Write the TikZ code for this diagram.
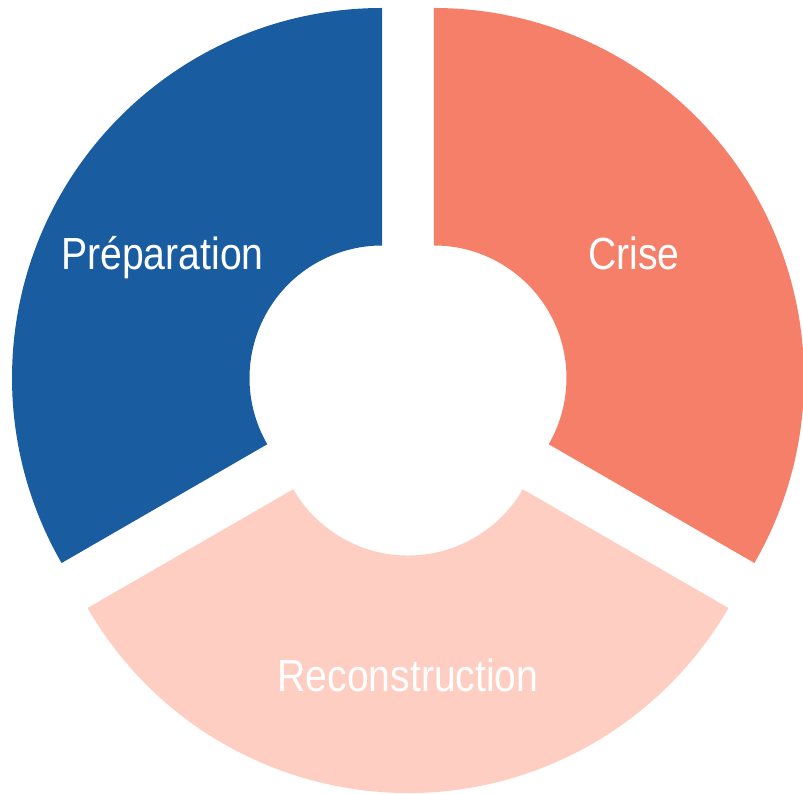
\documentclass[tikz,border=0pt]{standalone}
\usepackage{fontspec}
\setmainfont{Liberation Sans}[FakeStretch=0.87]
\usetikzlibrary{calc}
\definecolor{prepblue}{RGB}{26,92,160}
\definecolor{crisesalmon}{RGB}{246,127,106}
\definecolor{reconpink}{RGB}{254,206,195}
\tikzset{
  seglabel/.style={text=white, font=\fontsize{45pt}{45pt}\selectfont, anchor=base, inner sep=0pt},
}
\newcommand{\ringseg}[4]{% center, start, end, colour
  \fill[#4] ($(#1)+(#2:370)$) arc[start angle=#2, end angle=#3, radius=370]
     -- ($(#1)+(#3:132.5)$) arc[start angle=#3, end angle=#2, radius=132.5] -- cycle;
}
\begin{document}
\begin{tikzpicture}[x=1pt,y=1pt]
\useasboundingbox (0,0) rectangle (803,793);
\coordinate (cb) at (382.02,415);
\coordinate (co) at (433.98,415);
\coordinate (cp) at (408,370);
\ringseg{cb}{90}{210}{prepblue}
\ringseg{co}{-30}{90}{crisesalmon}
\ringseg{cp}{210}{330}{reconpink}
\node[seglabel] (prep) at (162.5,523) {Préparation};
\node[seglabel] (crise) at (634,523) {Crise};
\node[seglabel] (recon) at (408,102) {Reconstruction};
\end{tikzpicture}
\end{document}
